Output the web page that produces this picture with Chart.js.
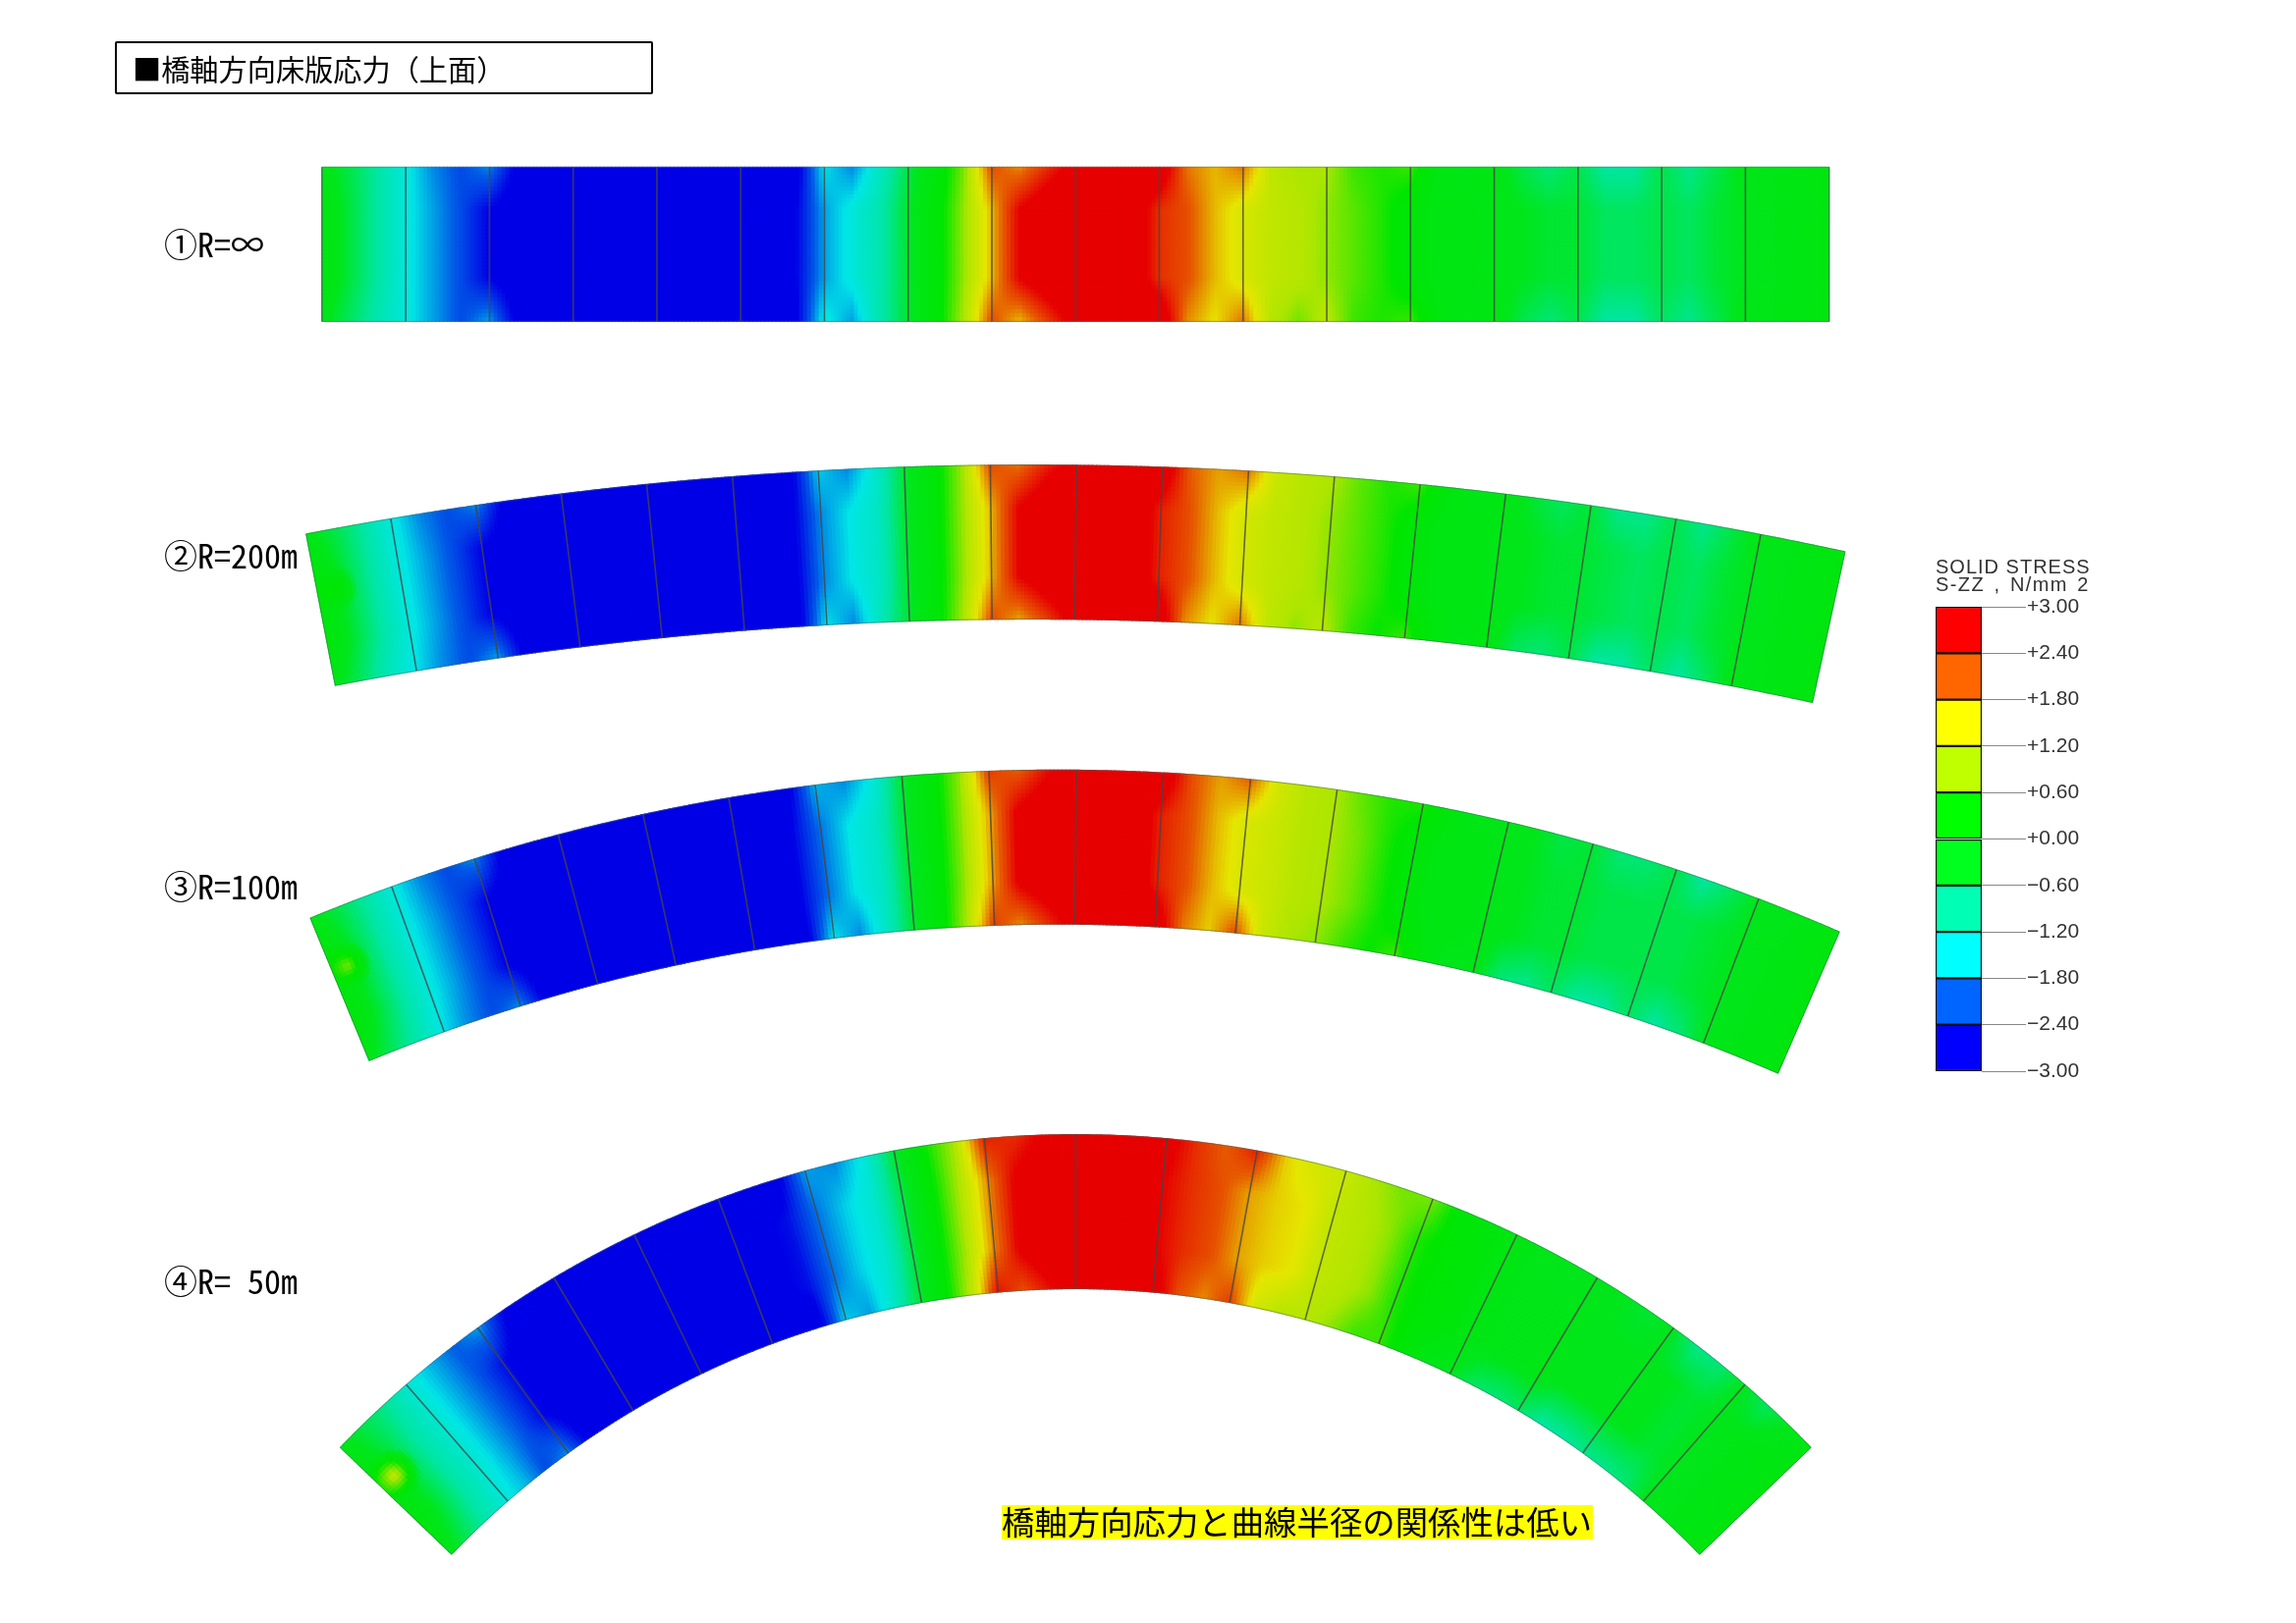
<!DOCTYPE html>
<html lang="ja">
<head>
<meta charset="utf-8">
<title>橋軸方向床版応力（上面）</title>
<script src="https://cdn.jsdelivr.net/npm/chart.js@4"></script>
<style>
  html, body { margin: 0; background: #fff; }
  body { position: relative; width: 2338px; height: 1653px; overflow: hidden; font-family: "Noto Sans CJK JP", sans-serif; color: #000; }
  canvas { position: absolute; }
  #contour { left: 0; top: 0; }
  #legend { left: 1970px; top: 596px; }
  .txt { position: absolute; white-space: nowrap; }
  #title { left: 117px; top: 42px; width: 544px; height: 50px; border: 2px solid #000; border-radius: 2px; font-size: 29.2px; line-height: 50px; text-indent: 16px; }
  .deck-label { left: 167px; font-size: 34px; line-height: 40px; font-feature-settings: "hwid"; transform-origin: left center; }
  #note { left: 1020px; top: 1533px; width: 602px; height: 35px; background: #ff0; font-size: 33.4px; line-height: 32px; }
  #legend-title { left: 1971px; top: 568px; font-family: "Liberation Sans", sans-serif; font-size: 20px; line-height: 18px; letter-spacing: 1px; color: #333; }
  #legend-title span { word-spacing: 2.5px; letter-spacing: 1.4px; }
</style>
</head>
<body>
<canvas id="contour" width="2338" height="1653"></canvas>
<canvas id="legend" width="150" height="517"></canvas>
<div class="txt" id="title">■橋軸方向床版応力（上面）</div>
<div class="txt deck-label" style="top:228px">①R=∞</div>
<div class="txt deck-label" style="top:545px">②R=200m</div>
<div class="txt deck-label" style="top:882px">③R=100m</div>
<div class="txt deck-label" style="top:1284px">④R= 50m</div>
<div class="txt" id="note">橋軸方向応力と曲線半径の関係性は低い</div>
<div class="txt" id="legend-title">SOLID STRESS<br><span>S-ZZ , N/mm 2</span></div>

<script>
// ---- data ----
// radius of each deck in metres (first one is straight)
const deckRadius = [Infinity, 200, 100, 50];
const spanCount = 18;
const deckLength = [80, 80.6, 80.1, 80.6]; // m, centre line as measured in the drawing
const deckWidth = 8.2;                     // m

// stress in N/mm2 at every third of a span (55 stations), outer edge / mid width / inner edge
const deck1Outer = [-0.2,-0.5,-0.9, -1.4,-1.9,-2.2, -1.9,-2.8,-3.1, -2.7,-3.2,-3.2, -3.2,-3.2,-3.2, -2.7,-3.1,-2.9, -1.5,-1.9,-1.2, -0.5,0.0,0.7, 2.2,1.9,2.4, 2.9,3.1,2.9, 3.1,2.0,1.7, 2.0,1.1,0.9, 0.9,0.5,0.4, 0.5,-0.1,-0.2, -0.1,-0.5,-0.7, -0.5,-0.9,-0.9, -0.5,-0.8,-0.5, -0.2,-0.2,-0.1,0.0];
const deck1Middle = [0.0,-0.45,-0.9, -1.4,-1.8,-2.2, -2.7,-3.0,-3.2, -3.2,-3.2,-3.2, -3.2,-3.2,-3.2, -3.1,-3.0,-2.7, -1.8,-1.4,-1.0, -0.4,0.1,0.8, 1.7,2.7,3.1, 3.2,3.2,3.1, 2.4,2.2,1.7, 1.35,1.1,1.0, 0.8,0.6,0.4, 0.1,-0.1,-0.1, -0.2,-0.3,-0.4, -0.4,-0.6,-0.6, -0.5,-0.6,-0.4, -0.3,-0.2,-0.1,0.0];
const deck1Inner = [-0.2,-0.6,-1.0, -1.4,-1.8,-2.2, -1.8,-2.8,-3.1, -2.6,-3.2,-3.2, -3.2,-3.2,-3.2, -2.6,-3.1,-2.8, -1.4,-1.8,-1.0, -0.4,0.1,0.9, 2.2,1.7,2.3, 2.9,3.1,2.9, 3.2,1.9,1.5, 2.0,1.0,0.7, 1.0,0.5,0.4, 0.5,0.0,-0.2, -0.1,-0.5,-0.7, -0.5,-0.9,-0.9, -0.6,-0.8,-0.5, -0.2,-0.2,-0.1,0.0];

const deck2Outer = [-0.2,-0.5,-0.9, -1.4,-1.9,-2.2, -1.9,-2.8,-3.0, -2.6,-3.2,-3.2, -3.2,-3.2,-3.2, -2.6,-3.1,-2.9, -1.6,-1.9,-1.3, -0.4,0.1,0.8, 2.2,2.0,2.5, 2.9,3.1,2.9, 3.1,2.1,1.8, 2.0,1.2,1.0, 0.9,0.6,0.4, 0.5,0.0,-0.2, -0.1,-0.4,-0.6, -0.4,-0.8,-0.8, -0.5,-0.8,-0.5, -0.2,-0.2,-0.1,0.0];
const deck2Middle = [0.1,-0.4,-0.9, -1.4,-1.8,-2.2, -2.7,-3.0,-3.2, -3.2,-3.2,-3.2, -3.2,-3.2,-3.2, -3.1,-3.0,-2.8, -1.9,-1.5,-1.2, -0.4,0.1,0.8, 1.7,2.7,3.1, 3.2,3.2,3.1, 2.5,2.2,1.7, 1.3,1.1,1.0, 0.8,0.6,0.4, 0.1,-0.1,-0.1, -0.2,-0.3,-0.4, -0.4,-0.5,-0.6, -0.5,-0.6,-0.4, -0.3,-0.2,-0.1,0.0];
const deck2Inner = [-0.2,-0.6,-1.1, -1.5,-1.9,-2.2, -1.8,-2.8,-3.1, -2.7,-3.2,-3.2, -3.2,-3.2,-3.2, -2.6,-3.1,-2.9, -1.5,-1.9,-1.1, -0.4,0.1,0.9, 2.2,1.8,2.3, 2.9,3.1,2.9, 3.2,1.9,1.5, 2.0,1.1,0.8, 1.0,0.5,0.3, 0.5,0.0,-0.2, -0.1,-0.6,-0.7, -0.5,-0.9,-0.9, -0.6,-0.9,-0.6, -0.2,-0.2,-0.1,0.0];

const deck3Outer = [-0.2,-0.5,-0.9, -1.4,-1.9,-2.2, -1.9,-2.8,-3.0, -2.6,-3.2,-3.2, -3.2,-3.2,-3.2, -2.7,-3.1,-2.9, -1.7,-1.9,-1.4, -0.4,0.1,0.8, 2.3,2.1,2.6, 3.0,3.1,2.9, 3.1,2.2,1.8, 2.1,1.3,1.0, 0.9,0.6,0.4, 0.4,0.0,-0.2, -0.2,-0.3,-0.5, -0.4,-0.7,-0.7, -0.5,-0.9,-0.6, -0.3,-0.3,-0.1,0.0];
const deck3Middle = [0.1,-0.4,-0.9, -1.4,-1.8,-2.2, -2.7,-3.0,-3.2, -3.2,-3.2,-3.2, -3.2,-3.2,-3.2, -3.1,-2.9,-2.7, -2.0,-1.5,-1.2, -0.4,0.1,0.8, 1.8,2.8,3.1, 3.2,3.2,3.1, 2.5,2.2,1.7, 1.35,1.2,1.0, 0.9,0.7,0.4, 0.1,-0.1,-0.1, -0.2,-0.3,-0.4, -0.4,-0.5,-0.5, -0.5,-0.5,-0.4, -0.3,-0.2,-0.1,0.0];
const deck3Inner = [-0.2,-0.6,-1.0, -1.5,-1.9,-2.2, -1.9,-2.8,-3.1, -2.7,-3.2,-3.2, -3.2,-3.2,-3.2, -2.7,-3.1,-2.9, -1.5,-1.9,-1.2, -0.4,0.1,0.9, 2.3,1.9,2.4, 2.9,3.1,2.9, 3.1,2.0,1.6, 2.2,1.2,0.9, 0.8,0.5,0.3, 0.5,0.0,-0.3, -0.2,-0.7,-0.8, -0.6,-0.9,-0.9, -0.6,-0.9,-0.7, -0.3,-0.2,-0.1,0.0];

const deck4Outer = [-0.2,-0.5,-0.8, -1.3,-1.7,-2.1, -1.8,-2.7,-3.0, -2.8,-3.2,-3.2, -3.2,-3.2,-3.2, -2.7,-3.1,-2.9, -1.8,-1.9,-1.4, -0.4,0.3,0.9, 2.5,2.4,2.8, 3.0,3.1,3.0, 2.9,2.4,2.1, 2.5,1.6,1.3, 1.2,0.9,0.7, 0.7,0.2,0.0, -0.1,-0.2,-0.3, -0.3,-0.3,-0.4, -0.3,-0.8,-0.7, -0.3,-0.6,-0.3,-0.1];
const deck4Middle = [0.0,-0.4,-0.9, -1.3,-1.7,-2.1, -2.6,-3.0,-3.2, -3.2,-3.2,-3.2, -3.2,-3.2,-3.1, -3.0,-2.8,-2.6, -2.0,-1.6,-1.3, -0.5,0.2,0.9, 1.9,2.8,3.1, 3.2,3.2,3.0, 2.7,2.4,2.2, 1.8,1.6,1.5, 1.1,1.0,0.8, 0.4,0.2,0.1, -0.1,-0.2,-0.2, -0.2,-0.3,-0.3, -0.3,-0.3,-0.4, -0.3,-0.2,-0.1,0.0];
const deck4Inner = [-0.2,-0.6,-1.0, -1.4,-1.7,-2.2, -1.9,-2.8,-3.1, -2.8,-3.2,-3.2, -3.2,-3.2,-3.2, -2.7,-3.0,-2.9, -1.6,-1.8,-1.2, -0.4,0.2,1.0, 2.6,2.2,2.6, 3.0,3.1,3.0, 3.0,2.2,1.9, 2.3,1.3,1.0, 1.0,0.8,0.5, 0.5,0.1,-0.2, -0.3,-0.6,-0.7, -0.6,-0.9,-0.9, -0.8,-0.8,-0.7, -0.3,-0.2,-0.1,0.0];

const deckRows = [
  [deck1Outer, deck1Middle, deck1Inner],
  [deck2Outer, deck2Middle, deck2Inner],
  [deck3Outer, deck3Middle, deck3Inner],
  [deck4Outer, deck4Middle, deck4Inner]
];

// small local peaks: deck index, s (m), offset (m), stress, radius (m)
const hotSpots = [[1, -39.3, 0.9, 0.3, 1.2], [2, -39.2, 1.0, 0.7, 1.3], [3, -39.4, 1.0, 1.1, 1.4]];

// contour legend, bottom to top
const legendTicks = [-3, -2.4, -1.8, -1.2, -0.6, 0, 0.6, 1.2, 1.8, 2.4, 3];
const legendLabels = ['−3.00', '−2.40', '−1.80', '−1.20', '−0.60', '+0.00', '+0.60', '+1.20', '+1.80', '+2.40', '+3.00'];
const bandColors = ['#0000ff', '#0064ff', '#00ffff', '#00ffb4', '#00ff1e', '#00ff00', '#c0ff00', '#ffff00', '#ff6600', '#ff0000'];

// ---- page layout ----
const pxPerM = 19.25;
const crestCentreX = 1095;                // px
const crestCentreY = [246, 551, 863, 1236]; // px
const deckTilt = [0, 0.0115, 0.009, 0];   // rad, the decks are slightly turned in the drawing
const meshPitch = 4;                      // px
const plotShade = 0.9;                    // contour colours are a bit darker than the legend

function hexToRgb(h) {
  return [parseInt(h.slice(1, 3), 16), parseInt(h.slice(3, 5), 16), parseInt(h.slice(5, 7), 16)];
}
const bandRgb = bandColors.map(hexToRgb);

function stressColor(v) {
  // bands are centred between the ticks: blend between neighbouring centres
  const p = Math.max(0, Math.min(bandRgb.length - 1, (v + 3) / 0.6 - 0.5));
  const i = Math.min(bandRgb.length - 2, Math.floor(p));
  const f = p - i;
  const c = bandRgb[i].map((a, n) => (a + (bandRgb[i + 1][n] - a) * f) * plotShade);
  return `rgb(${Math.round(c[0])},${Math.round(c[1])},${Math.round(c[2])})`;
}

function rowValue(row, u) {
  const p = u * (row.length - 1);
  const i = Math.max(0, Math.min(row.length - 2, Math.floor(p)));
  return row[i] + (row[i + 1] - row[i]) * (p - i);
}

function stressAt(d, s, o) {
  const [outer, middle, inner] = deckRows[d];
  const u = (s + deckLength[d] / 2) / deckLength[d];
  const t = (deckWidth / 2 - o) / deckWidth; // 0 outer edge, 1 inner edge
  let v = rowValue(middle, u);
  if (t < 0.28) v = rowValue(outer, u) + (v - rowValue(outer, u)) * t / 0.28;
  if (t > 0.72) v = v + (rowValue(inner, u) - v) * (t - 0.72) / 0.28;
  hotSpots.filter(h => h[0] === d).forEach(h => {
    const w = Math.max(0, 1 - Math.hypot(s - h[1], o - h[2]) / h[4]);
    v += (h[3] - v) * w;
  });
  return v;
}

// deck coordinates (s along the centre line, o towards the outside) to chart metres
function deckPoint(d, s, o) {
  const R = deckRadius[d];
  let x = s, y = o;
  if (isFinite(R)) {
    const a = s / R;
    x = (R + o) * Math.sin(a);
    y = (R + o) * Math.cos(a) - R;
  }
  const t = deckTilt[d];
  return {
    x: x * Math.cos(t) + y * Math.sin(t),
    y: -x * Math.sin(t) + y * Math.cos(t) - crestCentreY[d] / pxPerM
  };
}

function buildDeckMesh(d) {
  const R = deckRadius[d];
  const len = deckLength[d];
  const nS = Math.round(len * pxPerM / meshPitch);
  const nO = Math.round(deckWidth * pxPerM / meshPitch);
  const pts = [], colors = [], rots = [];
  for (let i = 0; i < nS; i++) {
    const s = -len / 2 + (i + 0.5) * len / nS;
    const rot = ((isFinite(R) ? s / R : 0) + deckTilt[d]) * 180 / Math.PI;
    for (let j = 0; j < nO; j++) {
      const o = deckWidth / 2 - (j + 0.5) * deckWidth / nO;
      pts.push(deckPoint(d, s, o));
      colors.push(stressColor(stressAt(d, s, o)));
      rots.push(rot);
    }
  }
  return {
    data: pts, order: 3, showLine: false, pointStyle: 'rect', pointRadius: 3.5, pointBorderWidth: 0,
    pointBackgroundColor: colors, pointRotation: rots
  };
}

function lineDataset(points, color, width) {
  return { data: points, order: 1, showLine: true, pointRadius: 0, borderColor: color, borderWidth: width, fill: false };
}

const datasets = [];
deckRadius.forEach((R, d) => {
  datasets.push(buildDeckMesh(d));
  const len = deckLength[d];
  const span = len / spanCount;
  // joints between spans, thin end lines
  for (let k = 0; k <= spanCount; k++) {
    const s = -len / 2 + k * span;
    const isEnd = k === 0 || k === spanCount;
    datasets.push(lineDataset([deckPoint(d, s, deckWidth / 2), deckPoint(d, s, -deckWidth / 2)],
      isEnd ? 'rgba(60,110,90,0.6)' : 'rgba(70,70,70,0.8)', isEnd ? 1 : 1.6));
  }
  // outline along both edges
  [deckWidth / 2, -deckWidth / 2].forEach(o => {
    const pts = [];
    for (let k = 0; k <= spanCount * 6; k++) pts.push(deckPoint(d, -len / 2 + k * span / 6, o));
    datasets.push(lineDataset(pts, 'rgba(70,110,100,0.55)', 1));
  });
});

const W = 2338, H = 1653;
new Chart(document.getElementById('contour'), {
  type: 'scatter',
  data: { datasets },
  options: {
    responsive: false, animation: false, events: [], parsing: false, normalized: true,
    layout: { padding: 0 },
    plugins: { legend: { display: false }, tooltip: { enabled: false } },
    scales: {
      x: { type: 'linear', display: false, min: -crestCentreX / pxPerM, max: (W - crestCentreX) / pxPerM },
      y: { type: 'linear', display: false, min: -H / pxPerM, max: 0 }
    }
  }
});

// colour bar is a floating bar per band
new Chart(document.getElementById('legend'), {
  type: 'bar',
  data: {
    labels: [''],
    datasets: bandColors.map((c, i) => ({
      data: [[legendTicks[i], legendTicks[i + 1]]],
      backgroundColor: c, borderColor: '#111', borderWidth: 1.5, borderSkipped: false,
      grouped: false, barPercentage: 1, categoryPercentage: 1
    }))
  },
  options: {
    responsive: false, animation: false, events: [],
    layout: { padding: { top: 22, bottom: 22, left: 1, right: 0 } },
    plugins: { legend: { display: false }, tooltip: { enabled: false } },
    scales: {
      x: { display: false },
      y: {
        position: 'right', min: -3, max: 3,
        afterBuildTicks: axis => { axis.ticks = legendTicks.map(v => ({ value: v })); },
        afterFit: axis => { axis.width = 102; },
        border: { display: false },
        grid: { drawOnChartArea: false, drawTicks: true, tickLength: 45, tickColor: '#888', tickWidth: 1 },
        ticks: {
          autoSkip: false, padding: 1, color: '#333', font: { family: 'Liberation Sans', size: 21 },
          callback: (v, i) => legendLabels[i]
        }
      }
    }
  }
});
</script>
</body>
</html>
